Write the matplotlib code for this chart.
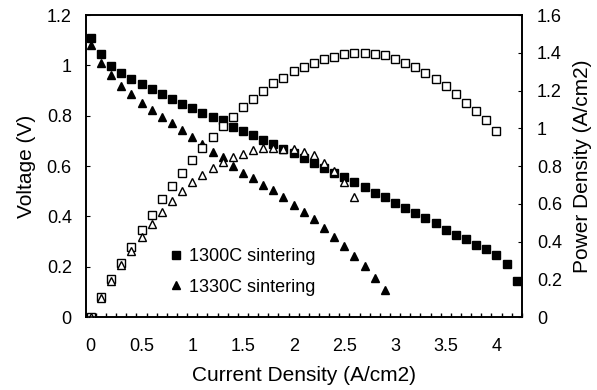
import numpy as np
import matplotlib
matplotlib.use("Agg")
import matplotlib.pyplot as plt

plt.rcParams['font.family'] = ['Liberation Sans', 'DejaVu Sans']
plt.rcParams['font.size'] = 13

# current density (A/cm2)
current = [round(0.1 * i, 1) for i in range(43)]

# voltage, 1300C sintering (0 .. 4.2)
v_1300 = [1.110, 1.046, 0.998, 0.969, 0.946, 0.924, 0.905, 0.887, 0.867, 0.848,
          0.830, 0.812, 0.796, 0.781, 0.757, 0.740, 0.722, 0.704, 0.688, 0.667,
          0.651, 0.631, 0.611, 0.591, 0.571, 0.556, 0.535, 0.518, 0.493, 0.476,
          0.452, 0.435, 0.412, 0.392, 0.372, 0.346, 0.326, 0.309, 0.286, 0.269,
          0.246, 0.211, 0.143]
# voltage, 1330C sintering (0 .. 2.9)
v_1330 = [1.081, 1.009, 0.962, 0.918, 0.885, 0.852, 0.823, 0.796, 0.770, 0.744,
          0.717, 0.688, 0.657, 0.637, 0.600, 0.571, 0.551, 0.525, 0.503, 0.477,
          0.445, 0.419, 0.388, 0.353, 0.319, 0.284, 0.244, 0.203, 0.154, 0.107]
# power density, 1300C sintering (0 .. 4.0)
p_1300 = [0.000, 0.105, 0.200, 0.288, 0.370, 0.462, 0.540, 0.625, 0.694, 0.763,
          0.830, 0.893, 0.955, 1.012, 1.060, 1.112, 1.155, 1.198, 1.238, 1.268,
          1.303, 1.326, 1.347, 1.365, 1.380, 1.395, 1.397, 1.398, 1.396, 1.388,
          1.365, 1.347, 1.326, 1.294, 1.259, 1.224, 1.181, 1.135, 1.093, 1.044,
          0.987]
# power density, 1330C sintering (0 .. 2.6)
p_1330 = [0.000, 0.101, 0.192, 0.275, 0.352, 0.426, 0.494, 0.557, 0.616, 0.670,
          0.717, 0.750, 0.788, 0.823, 0.846, 0.866, 0.884, 0.893, 0.893, 0.892,
          0.888, 0.877, 0.856, 0.818, 0.776, 0.714, 0.637]

fig = plt.figure(figsize=(5.97, 3.9), dpi=100)
ax = fig.add_axes([0.1436, 0.187, 0.7305, 0.7745])
ax2 = ax.twinx()

ms = 5.5
l1, = ax.plot(current[:len(v_1300)], v_1300, ls='none', marker='s', ms=ms,
              color='black', label='1300C sintering')
l2, = ax.plot(current[:len(v_1330)], v_1330, ls='none', marker='^', ms=ms + 0.6,
              color='black', label='1330C sintering')
ax2.plot(current[:len(p_1300)], p_1300, ls='none', marker='s', ms=ms,
         mfc='white', mec='black', mew=1.0)
ax2.plot(current[:len(p_1330)], p_1330, ls='none', marker='^', ms=ms + 0.6,
         mfc='white', mec='black', mew=1.0)

ax.set_xlim(-0.05, 4.25)
ax.set_ylim(0, 1.2)
ax2.set_ylim(0, 1.6)

ax.set_xticks(np.arange(0, 4.01, 0.5))
ax.set_xticklabels(['0', '0.5', '1', '1.5', '2', '2.5', '3', '3.5', '4'])
ax.set_xticks(np.arange(-0.05, 4.26, 0.1), minor=True)
ax.tick_params(axis='x', which='major', length=0, pad=15)
ax.tick_params(axis='x', which='minor', direction='in', length=3, width=1)

ax.set_yticks(np.arange(0, 1.21, 0.2))
ax.set_yticklabels(['0', '0.2', '0.4', '0.6', '0.8', '1', '1.2'])
ax.tick_params(axis='y', direction='in', length=3, pad=10)
ax2.set_yticks(np.arange(0, 1.61, 0.2))
ax2.set_yticklabels(['0', '0.2', '0.4', '0.6', '0.8', '1', '1.2', '1.4', '1.6'])
ax2.tick_params(axis='y', direction='in', length=3, pad=11)

for a in (ax, ax2):
    for s in a.spines.values():
        s.set_linewidth(1.2)

ax.set_xlabel('Current Density (A/cm2)', fontsize=15, labelpad=8)
ax.set_ylabel('Voltage (V)', fontsize=15, labelpad=8)
ax2.set_ylabel('Power Density (A/cm2)', fontsize=15, labelpad=8)

ax.legend(handles=[l1, l2], loc='upper left', bbox_to_anchor=(0.195, 0.228),
          frameon=False, handlelength=0.6, handletextpad=0.4,
          labelspacing=0.75, borderpad=0, borderaxespad=0)

fig.savefig('out.png', dpi=100)
